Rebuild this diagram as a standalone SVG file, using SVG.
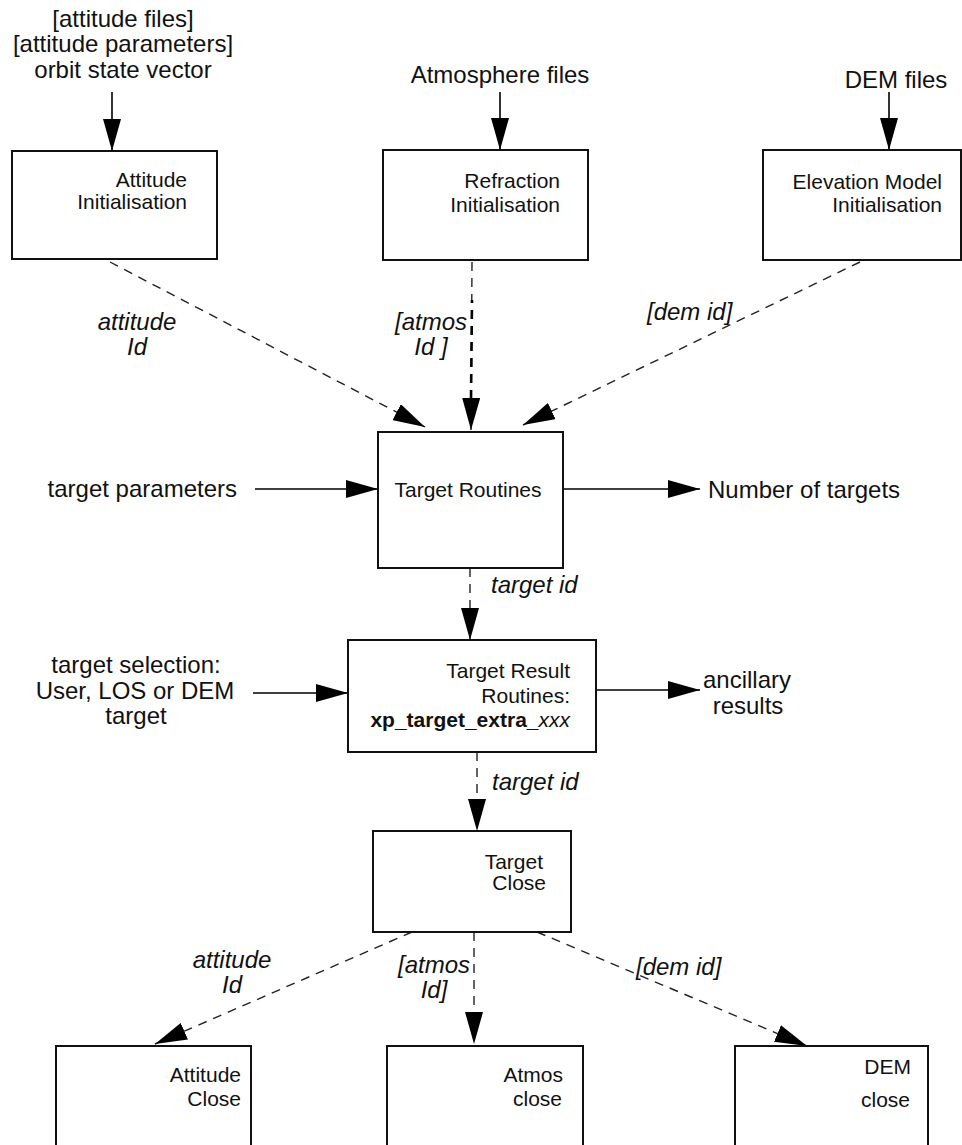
<svg xmlns="http://www.w3.org/2000/svg" width="962" height="1145" viewBox="0 0 962 1145">
<defs>
<marker id="ah" markerUnits="userSpaceOnUse" markerWidth="32" markerHeight="18" refX="32" refY="9" orient="auto" viewBox="0 0 32 18"><path d="M0,0 L32,9 L0,18 z" fill="#000"/></marker>
<style>
.box{fill:#fff;stroke:#111;stroke-width:2}
.t{font-family:"Liberation Sans",Arial,sans-serif;font-size:24px;fill:#111}
.bt{font-family:"Liberation Sans",Arial,sans-serif;font-size:21px;fill:#111;text-anchor:end}
.it{font-style:italic}
.c{text-anchor:middle}
.sol{stroke:#000;stroke-width:1.6;fill:none;marker-end:url(#ah)}
.dsh{stroke:#222;stroke-width:1.4;fill:none;stroke-dasharray:9 7;marker-end:url(#ah)}
</style>
</defs>
<rect width="962" height="1145" fill="#fff"/>

<g id="connectors">
<line class="sol" x1="112" y1="92" x2="112" y2="151"/>
<line class="sol" x1="500" y1="92" x2="500" y2="150"/>
<line class="sol" x1="889" y1="92" x2="889" y2="150"/>
<line class="dsh" x1="110" y1="262" x2="425" y2="427"/>
<line class="dsh" x1="472" y1="262" x2="471" y2="430"/>
<line x1="472" y1="300" x2="471" y2="400" stroke="#000" stroke-width="2.6" stroke-dasharray="9 7" stroke-dashoffset="6"/>
<line class="dsh" x1="860" y1="262" x2="523" y2="425"/>
<line class="sol" x1="255" y1="489" x2="378" y2="489"/>
<line class="sol" x1="563" y1="489" x2="700" y2="489"/>
<line class="dsh" x1="470" y1="568" x2="470" y2="640"/>
<line class="sol" x1="253" y1="693" x2="348" y2="693"/>
<line class="sol" x1="596" y1="690" x2="700" y2="690"/>
<line class="dsh" x1="477" y1="752" x2="477" y2="831"/>
<line class="dsh" x1="412" y1="932" x2="155" y2="1044"/>
<line class="dsh" x1="474" y1="932" x2="474" y2="1044"/>
<line class="dsh" x1="537" y1="932" x2="807" y2="1046"/>
</g>

<g id="labels">
<text class="t c" x="123" y="27">[attitude files]</text>
<text class="t c" x="123" y="52">[attitude parameters]</text>
<text class="t c" x="123" y="78">orbit state vector</text>
<text class="t c" x="500" y="83">Atmosphere files</text>
<text class="t c" x="896" y="88">DEM files</text>
<text class="t c it" x="137" y="330">attitude</text>
<text class="t c it" x="137" y="355">Id</text>
<text class="t c it" x="431" y="330">[atmos</text>
<text class="t c it" x="431" y="355">Id ]</text>
<text class="t it" x="647" y="320">[dem id]</text>
<text class="t" x="237" y="497" text-anchor="end">target parameters</text>
<text class="t" x="708" y="498">Number of targets</text>
<text class="t it" x="491" y="593">target id</text>
<text class="t c" x="136" y="673">target selection:</text>
<text class="t c" x="135" y="699">User, LOS or DEM</text>
<text class="t c" x="136" y="724">target</text>
<text class="t c" x="747" y="688">ancillary</text>
<text class="t c" x="748" y="714">results</text>
<text class="t it" x="492" y="790">target id</text>
<text class="t c it" x="232" y="968">attitude</text>
<text class="t c it" x="232" y="993">Id</text>
<text class="t c it" x="434" y="973">[atmos</text>
<text class="t c it" x="434" y="998">Id]</text>
<text class="t it" x="636" y="975">[dem id]</text>
</g>

<g id="attitude-init">
<rect class="box" x="12" y="151" width="205" height="108"/>
<text class="bt" x="187" y="187">Attitude</text>
<text class="bt" x="187" y="209">Initialisation</text>
</g>
<g id="refraction-init">
<rect class="box" x="383" y="150" width="205" height="110"/>
<text class="bt" x="560" y="188">Refraction</text>
<text class="bt" x="560" y="212">Initialisation</text>
</g>
<g id="elevation-init">
<rect class="box" x="763" y="150" width="198" height="110"/>
<text class="bt" x="942" y="189">Elevation Model</text>
<text class="bt" x="942" y="212">Initialisation</text>
</g>
<g id="target-routines">
<rect class="box" x="378" y="432" width="185" height="136"/>
<text class="bt" x="468" y="497" style="text-anchor:middle">Target Routines</text>
</g>
<g id="target-result">
<rect class="box" x="348" y="640" width="248" height="112"/>
<text class="bt" x="570" y="678">Target Result</text>
<text class="bt" x="570" y="703">Routines:</text>
<text class="bt" x="570" y="727" font-weight="bold">xp_target_extra_<tspan font-style="italic" font-weight="normal">xxx</tspan></text>
</g>
<g id="target-close">
<rect class="box" x="373" y="831" width="198" height="101"/>
<text class="bt" x="543" y="869" font-size="20">Target</text>
<text class="bt" x="546" y="890" font-size="20">Close</text>
</g>
<g id="attitude-close">
<rect class="box" x="56" y="1046" width="195" height="120"/>
<text class="bt" x="241" y="1082" font-size="20">Attitude</text>
<text class="bt" x="241" y="1106" font-size="20">Close</text>
</g>
<g id="atmos-close">
<rect class="box" x="387" y="1046" width="196" height="120"/>
<text class="bt" x="563" y="1082" font-size="20">Atmos</text>
<text class="bt" x="562" y="1106" font-size="20">close</text>
</g>
<g id="dem-close">
<rect class="box" x="735" y="1046" width="193" height="120"/>
<text class="bt" x="911" y="1074" font-size="20">DEM</text>
<text class="bt" x="910" y="1107" font-size="20">close</text>
</g>
</svg>
